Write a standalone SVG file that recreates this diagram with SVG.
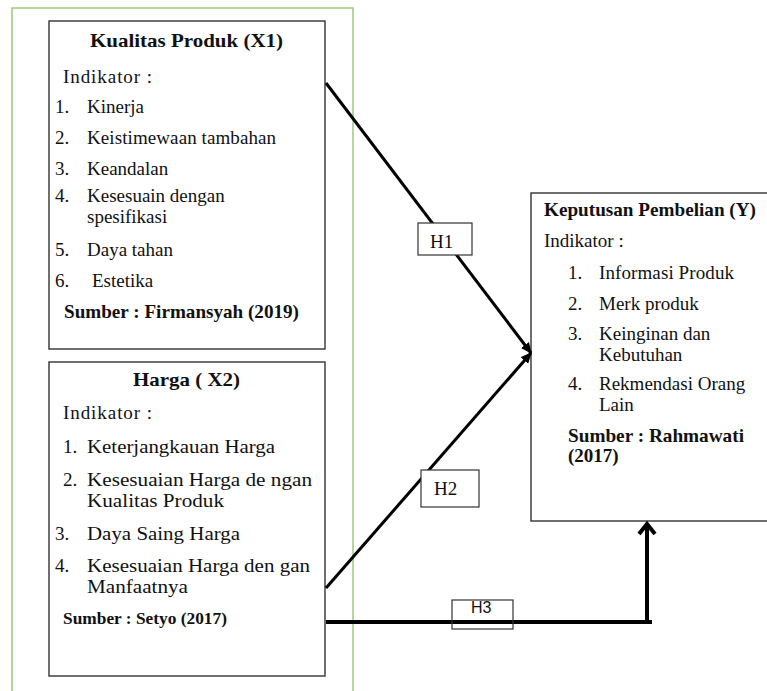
<svg xmlns="http://www.w3.org/2000/svg" width="767" height="691" viewBox="0 0 767 691">
<style>
  .frame{fill:none;stroke:#9cc87e;stroke-width:1.5}
  .box{fill:#fff;stroke:#333;stroke-width:1.4}
  .lbl{fill:#fff;stroke:#333;stroke-width:1.2}
  .t{font-family:"Liberation Serif","Times New Roman",serif;font-size:19px;fill:#111}
  .b{font-weight:bold}
  .s{font-family:"Liberation Sans",Arial,sans-serif;font-size:16px;fill:#111}
  .ln{stroke:#000;stroke-width:3;fill:none}
  .lnb{stroke:#000;stroke-width:4;fill:none}
</style>
<defs>
  <marker id="ah" markerUnits="userSpaceOnUse" markerWidth="11" markerHeight="10" refX="10" refY="5" orient="auto">
    <path d="M0,0 L11,5 L0,10 z" fill="#000"/>
  </marker>
</defs>
<rect width="767" height="691" fill="#fff"/>
<rect class="frame" x="12" y="8" width="341" height="700"/>

<g id="node-x1">
  <rect class="box" x="49" y="21" width="276" height="328"/>
  <text class="t b" x="90" y="47" textLength="193" lengthAdjust="spacingAndGlyphs">Kualitas Produk  (X1)</text>
  <text class="t" x="63" y="83" textLength="89" lengthAdjust="spacing">Indikator :</text>
  <text class="t" x="55" y="113">1.</text><text class="t" x="87" y="113">Kinerja</text>
  <text class="t" x="55" y="144">2.</text><text class="t" x="87" y="144" textLength="189">Keistimewaan tambahan</text>
  <text class="t" x="55" y="175">3.</text><text class="t" x="87" y="175">Keandalan</text>
  <text class="t" x="55" y="202">4.</text><text class="t" x="87" y="202">Kesesuain dengan</text>
  <text class="t" x="87" y="223">spesifikasi</text>
  <text class="t" x="55" y="256">5.</text><text class="t" x="87" y="256">Daya tahan</text>
  <text class="t" x="55" y="287">6.</text><text class="t" x="92" y="287">Estetika</text>
  <text class="t b" x="64" y="318" textLength="235" lengthAdjust="spacingAndGlyphs">Sumber : Firmansyah (2019)</text>
</g>

<g id="node-x2">
  <rect class="box" x="49" y="362" width="276" height="314"/>
  <text class="t b" x="133" y="386" textLength="107" lengthAdjust="spacingAndGlyphs">Harga ( X2)</text>
  <text class="t" x="63" y="419" textLength="89" lengthAdjust="spacing">Indikator :</text>
  <text class="t" x="63" y="453">1.</text><text class="t" x="87" y="453" textLength="188" lengthAdjust="spacingAndGlyphs">Keterjangkauan Harga</text>
  <text class="t" x="63" y="486">2.</text><text class="t" x="87" y="486" textLength="225" lengthAdjust="spacingAndGlyphs">Kesesuaian Harga de ngan</text>
  <text class="t" x="87" y="507" textLength="137" lengthAdjust="spacingAndGlyphs">Kualitas Produk</text>
  <text class="t" x="55" y="540">3.</text><text class="t" x="87" y="540" textLength="153" lengthAdjust="spacingAndGlyphs">Daya Saing Harga</text>
  <text class="t" x="55" y="572">4.</text><text class="t" x="87" y="572" textLength="223" lengthAdjust="spacingAndGlyphs">Kesesuaian Harga den gan</text>
  <text class="t" x="87" y="593" textLength="101" lengthAdjust="spacingAndGlyphs">Manfaatnya</text>
  <text class="t b" x="63" y="624" style="font-size:17px" textLength="164" lengthAdjust="spacingAndGlyphs">Sumber : Setyo (2017)</text>
</g>

<g id="node-y">
  <rect class="box" x="531" y="193" width="250" height="328"/>
  <text class="t b" x="544" y="216" textLength="212" lengthAdjust="spacingAndGlyphs">Keputusan Pembelian (Y)</text>
  <text class="t" x="544" y="247">Indikator :</text>
  <text class="t" x="568" y="279">1.</text><text class="t" x="599" y="279" textLength="135">Informasi Produk</text>
  <text class="t" x="568" y="310">2.</text><text class="t" x="599" y="310">Merk produk</text>
  <text class="t" x="568" y="340">3.</text><text class="t" x="599" y="340">Keinginan dan</text>
  <text class="t" x="599" y="361">Kebutuhan</text>
  <text class="t" x="568" y="390">4.</text><text class="t" x="599" y="390">Rekmendasi Orang</text>
  <text class="t" x="599" y="411">Lain</text>
  <text class="t b" x="568" y="442" textLength="176" lengthAdjust="spacingAndGlyphs">Sumber : Rahmawati</text>
  <text class="t b" x="568" y="462">(2017)</text>
</g>

<g id="connectors">
  <line class="ln" x1="326" y1="83" x2="531" y2="353" marker-end="url(#ah)"/>
  <line class="ln" x1="326" y1="588" x2="531" y2="353" marker-end="url(#ah)"/>
  <polyline class="lnb" points="326,622 652,622"/>
  <line class="lnb" x1="647" y1="624" x2="647" y2="524"/>
  <polyline class="lnb" points="639,534 647,524 655,534" stroke-linejoin="miter"/>
</g>

<g id="label-h1">
  <rect class="lbl" x="418" y="223" width="54" height="32"/>
  <text class="t" x="430" y="248">H1</text>
</g>
<g id="label-h2">
  <rect class="lbl" x="421" y="470" width="58" height="37"/>
  <text class="t" x="434" y="495">H2</text>
</g>
<g id="label-h3">
  <rect x="452" y="600" width="61" height="29" fill="none" stroke="#333" stroke-width="1.2"/>
  <text class="s" x="471" y="613">H3</text>
</g>
</svg>
